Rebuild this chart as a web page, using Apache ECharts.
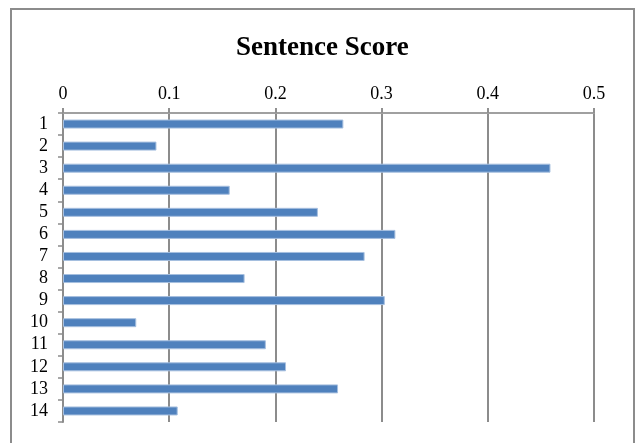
<!DOCTYPE html>
<html>
<head>
<meta charset="utf-8">
<script src="https://cdn.jsdelivr.net/npm/echarts@6/dist/echarts.min.js"></script>
<style>
html,body{margin:0;padding:0;background:#fff;}
#chart{width:635px;height:443px;}
</style>
</head>
<body>
<div id="chart"></div>
<script>
var titleText = 'Sentence Score';
var categories = ['1','2','3','4','5','6','7','8','9','10','11','12','13','14'];
var scores = [0.264, 0.088, 0.459, 0.157, 0.240, 0.313, 0.284, 0.171, 0.303, 0.069, 0.191, 0.210, 0.259, 0.108];
var xTicks = [0, 0.1, 0.2, 0.3, 0.4, 0.5];

var serif = '"Liberation Serif", "Times New Roman", serif';
var chart = echarts.init(document.getElementById('chart'), null, {renderer: 'canvas'});
chart.setOption({
  animation: false,
  backgroundColor: '#ffffff',
  graphic: [{
    type: 'rect',
    shape: {x: 11, y: 9, width: 623, height: 460},
    style: {fill: 'none', stroke: '#8c8c8c', lineWidth: 2},
    silent: true
  }],
  title: {
    text: titleText,
    left: 236,
    top: 35,
    padding: 0,
    textStyle: {fontFamily: serif, fontWeight: 'bold', fontSize: 27, color: '#000'}
  },
  grid: {left: 63, top: 113, right: 41, bottom: 21, containLabel: false},
  xAxis: {
    type: 'value',
    position: 'top',
    min: xTicks[0],
    max: xTicks[xTicks.length - 1],
    interval: 0.1,
    axisLine: {show: true, lineStyle: {color: '#a0a0a0', width: 2}},
    axisTick: {show: true, length: 5, lineStyle: {color: '#909090', width: 2}},
    splitLine: {show: true, lineStyle: {color: '#8c8c8c', width: 2}},
    axisLabel: {
      fontFamily: serif, fontSize: 18, color: '#000', margin: 10,
      formatter: function (v) { return String(Math.round(v * 10) / 10); }
    }
  },
  yAxis: {
    type: 'category',
    inverse: true,
    data: categories,
    axisLine: {show: true, lineStyle: {color: '#8c8c8c', width: 2}},
    axisTick: {show: true, length: 5, interval: 0, alignWithLabel: false, lineStyle: {color: '#8c8c8c', width: 1.5}},
    axisLabel: {fontFamily: serif, fontSize: 18, color: '#000', margin: 15, interval: 0}
  },
  series: [{
    type: 'bar',
    data: scores,
    barWidth: 9,
    itemStyle: {color: '#4F81BD', borderColor: '#a6bfdf', borderWidth: 1}
  }]
});
</script>
</body>
</html>
